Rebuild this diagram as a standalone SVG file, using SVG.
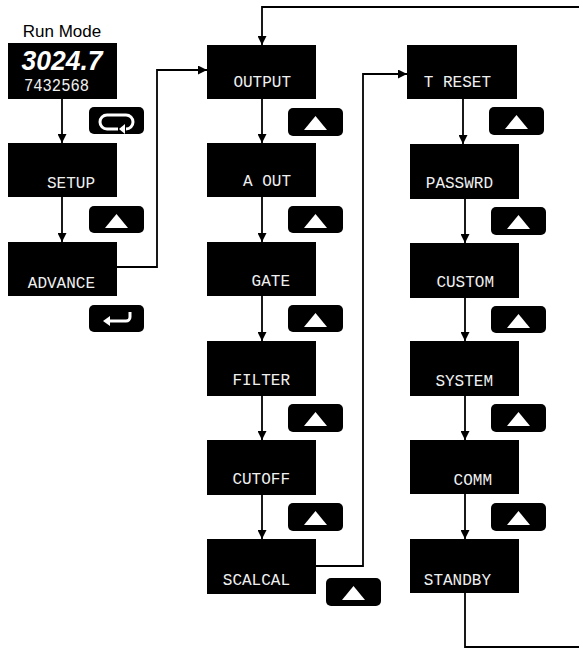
<svg xmlns="http://www.w3.org/2000/svg" width="579" height="649" viewBox="0 0 579 649">
<style>
.box{fill:#000}
.lbl{fill:#f0f0f0;font-family:"Liberation Mono",monospace;font-size:16px;text-anchor:end}
.btn{fill:#000}
.tri{fill:#fff}
.conn{fill:none;stroke:#000;stroke-width:1.8}
</style>
<defs>
<marker id="ah" viewBox="0 0 10 10" refX="10" refY="5" markerWidth="5" markerHeight="5" markerUnits="strokeWidth" orient="auto">
<path d="M0,0 L10,5 L0,10 z" fill="#000"/>
</marker>
</defs>
<rect width="579" height="649" fill="#fff"/>
<text x="62" y="37" font-family="Liberation Sans,Arial,sans-serif" font-size="17" text-anchor="middle" fill="#000">Run Mode</text>

<g id="connectors">
<line class="conn" x1="62" y1="99" x2="62" y2="143" marker-end="url(#ah)"/>
<line class="conn" x1="62" y1="197" x2="62" y2="242" marker-end="url(#ah)"/>
<polyline class="conn" points="117,267 157,267 157,70 207,70" marker-end="url(#ah)"/>
<polyline class="conn" points="579,7 262,7 262,45" marker-end="url(#ah)"/>
<line class="conn" x1="262" y1="99" x2="262" y2="143" marker-end="url(#ah)"/>
<line class="conn" x1="262" y1="197" x2="262" y2="242" marker-end="url(#ah)"/>
<line class="conn" x1="262" y1="296" x2="262" y2="341" marker-end="url(#ah)"/>
<line class="conn" x1="262" y1="396" x2="262" y2="440" marker-end="url(#ah)"/>
<line class="conn" x1="262" y1="495" x2="262" y2="539" marker-end="url(#ah)"/>
<polyline class="conn" points="316,566 363,566 363,74 407,74" marker-end="url(#ah)"/>
<line class="conn" x1="463" y1="99" x2="463" y2="144" marker-end="url(#ah)"/>
<line class="conn" x1="465" y1="199" x2="465" y2="243" marker-end="url(#ah)"/>
<line class="conn" x1="465" y1="298" x2="465" y2="341" marker-end="url(#ah)"/>
<line class="conn" x1="465" y1="396" x2="465" y2="440" marker-end="url(#ah)"/>
<line class="conn" x1="465" y1="494" x2="465" y2="539" marker-end="url(#ah)"/>
<polyline class="conn" points="465,593 465,647 579,647"/>
</g>

<g id="runmode">
<rect class="box" x="8" y="43" width="109" height="56"/>
<text x="62" y="70" font-family="Liberation Sans,Arial,sans-serif" font-size="28" font-style="italic" font-weight="bold" fill="#fff" text-anchor="middle" textLength="81" lengthAdjust="spacingAndGlyphs">3024.7</text>
<text x="24" y="91" font-family="Liberation Mono,monospace" font-size="18" fill="#f0f0f0" textLength="65" lengthAdjust="spacingAndGlyphs">7432568</text>
</g>
<g id="setup"><rect class="box" x="8" y="143" width="109" height="54"/><text class="lbl" x="95" y="188">SETUP</text></g>
<g id="advance"><rect class="box" x="8" y="242" width="109" height="54"/><text class="lbl" x="95" y="288">ADVANCE</text></g>

<g id="output"><rect class="box" x="207" y="45" width="109" height="54"/><text class="lbl" x="291" y="87">OUTPUT</text></g>
<g id="aout"><rect class="box" x="207" y="143" width="109" height="54"/><text class="lbl" x="291" y="186">A OUT</text></g>
<g id="gate"><rect class="box" x="207" y="242" width="109" height="54"/><text class="lbl" x="290" y="286">GATE</text></g>
<g id="filter"><rect class="box" x="207" y="341" width="109" height="55"/><text class="lbl" x="290" y="385">FILTER</text></g>
<g id="cutoff"><rect class="box" x="207" y="440" width="109" height="55"/><text class="lbl" x="290" y="484">CUTOFF</text></g>
<g id="scalcal"><rect class="box" x="207" y="539" width="109" height="55"/><text class="lbl" x="290" y="585">SCALCAL</text></g>

<g id="treset"><rect class="box" x="407" y="45" width="110" height="54"/><text class="lbl" x="491" y="87">T RESET</text></g>
<g id="passwrd"><rect class="box" x="410" y="144" width="109" height="55"/><text class="lbl" x="493" y="188">PASSWRD</text></g>
<g id="custom"><rect class="box" x="410" y="243" width="109" height="55"/><text class="lbl" x="494" y="287">CUSTOM</text></g>
<g id="system"><rect class="box" x="410" y="341" width="109" height="55"/><text class="lbl" x="493" y="386">SYSTEM</text></g>
<g id="comm"><rect class="box" x="410" y="440" width="109" height="54"/><text class="lbl" x="492" y="485">COMM</text></g>
<g id="standby"><rect class="box" x="410" y="539" width="109" height="54"/><text class="lbl" x="491" y="585">STANDBY</text></g>

<g id="btn-loop">
<rect class="btn" x="89" y="107" width="55" height="27" rx="5"/>
<path d="M118,129 H107 A7,7 0 0 1 107,115 H126 A7,7 0 0 1 126,129 H127" fill="none" stroke="#fff" stroke-width="3"/>
<path d="M119,129 L125,124 L125,134 z" fill="#fff"/>
</g>
<g id="btn-enter">
<rect class="btn" x="89" y="305" width="55" height="27" rx="5"/>
<path d="M130,312 V317 A4,4 0 0 1 126,321 H109" fill="none" stroke="#fff" stroke-width="3"/>
<path d="M103,321 L110,316 L110,326 z" fill="#fff"/>
</g>

<g id="btn-up1"><rect class="btn" x="89" y="206" width="55" height="27" rx="5"/><path class="tri" d="M105,228 L128,228 L116.5,214 z"/></g>
<g id="btn-up2"><rect class="btn" x="288" y="108" width="55" height="28" rx="5"/><path class="tri" d="M304,130 L327,130 L315.5,116 z"/></g>
<g id="btn-up3"><rect class="btn" x="288" y="206" width="55" height="27" rx="5"/><path class="tri" d="M304,228 L327,228 L315.5,214 z"/></g>
<g id="btn-up4"><rect class="btn" x="288" y="305" width="55" height="27" rx="5"/><path class="tri" d="M304,327 L327,327 L315.5,313 z"/></g>
<g id="btn-up5"><rect class="btn" x="288" y="404" width="55" height="28" rx="5"/><path class="tri" d="M304,426 L327,426 L315.5,412 z"/></g>
<g id="btn-up6"><rect class="btn" x="288" y="503" width="55" height="28" rx="5"/><path class="tri" d="M304,525 L327,525 L315.5,511 z"/></g>
<g id="btn-up7"><rect class="btn" x="326" y="578" width="55" height="28" rx="5"/><path class="tri" d="M342,600 L365,600 L353.5,586 z"/></g>
<g id="btn-up8"><rect class="btn" x="489" y="107" width="55" height="28" rx="5"/><path class="tri" d="M505,129 L528,129 L516.5,115 z"/></g>
<g id="btn-up9"><rect class="btn" x="491" y="207" width="55" height="28" rx="5"/><path class="tri" d="M507,229 L530,229 L518.5,215 z"/></g>
<g id="btn-up10"><rect class="btn" x="491" y="306" width="55" height="27" rx="5"/><path class="tri" d="M507,328 L530,328 L518.5,314 z"/></g>
<g id="btn-up11"><rect class="btn" x="491" y="404" width="55" height="28" rx="5"/><path class="tri" d="M507,426 L530,426 L518.5,412 z"/></g>
<g id="btn-up12"><rect class="btn" x="491" y="503" width="55" height="28" rx="5"/><path class="tri" d="M507,525 L530,525 L518.5,511 z"/></g>
</svg>
